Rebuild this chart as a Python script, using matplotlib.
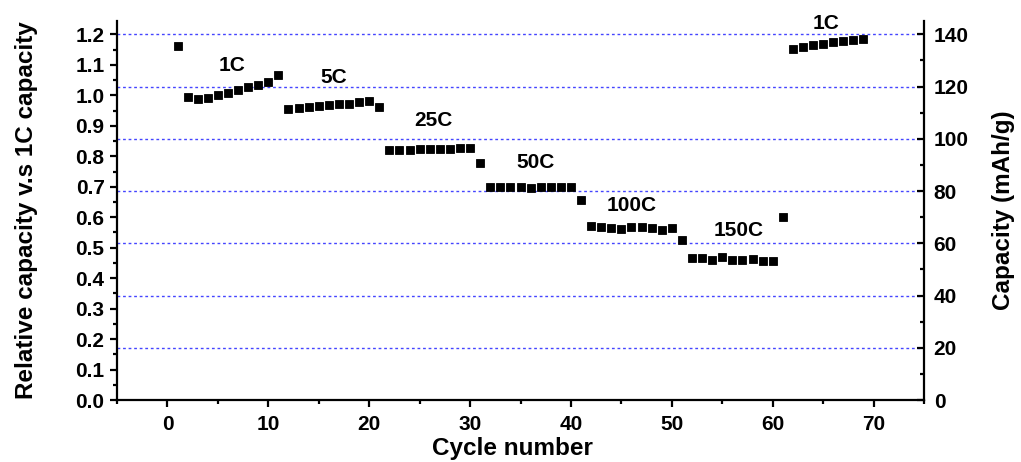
import matplotlib
matplotlib.use("Agg")
import matplotlib.pyplot as plt
from matplotlib.ticker import MultipleLocator

plt.rcParams['font.family'] = ['Liberation Sans', 'DejaVu Sans']
plt.rcParams['font.weight'] = 'bold'

# Rate-capability data: relative capacity (vs. 1C) per cycle
cycles = list(range(1, 70))
relative_capacity = [
    1.163,
    # 1C
    0.994, 0.989, 0.992, 1.000, 1.009, 1.018, 1.027, 1.035, 1.044, 1.068,
    # 5C
    0.956, 0.958, 0.961, 0.965, 0.967, 0.970, 0.972, 0.978, 0.982, 0.961,
    # 25C
    0.820, 0.820, 0.820, 0.823, 0.825, 0.825, 0.825, 0.828, 0.828, 0.777,
    # 50C
    0.700, 0.699, 0.700, 0.699, 0.697, 0.699, 0.700, 0.700, 0.700, 0.655,
    # 100C
    0.570, 0.569, 0.564, 0.562, 0.568, 0.567, 0.564, 0.557, 0.564, 0.525,
    # 150C
    0.465, 0.467, 0.458, 0.470, 0.460, 0.460, 0.463, 0.457, 0.457, 0.600,
    # back to 1C
    1.151, 1.158, 1.164, 1.169, 1.174, 1.177, 1.181, 1.184,
]

rate_labels = ["1C", "5C", "25C", "50C", "100C", "150C", "1C"]
rate_label_x = [6.4, 16.5, 26.4, 36.5, 46.0, 56.6, 65.3]
rate_label_y = [1.097, 1.058, 0.917, 0.781, 0.637, 0.556, 1.236]

left_ticks = [i / 10 for i in range(13)]
right_ticks = list(range(0, 141, 20))
x_ticks = list(range(0, 71, 10))

fig = plt.figure(figsize=(10.21, 4.62), dpi=100)
ax = fig.add_axes([117 / 1021, 1 - 400 / 462, (924 - 117) / 1021, (400 - 21) / 462])
ax2 = ax.twinx()

ax.plot(cycles, relative_capacity, linestyle='none', marker='s',
        markersize=6, markeredgewidth=0.6, color='black')

for txt, tx, ty in zip(rate_labels, rate_label_x, rate_label_y):
    ax.text(tx, ty, txt, fontsize=15, fontweight='bold', ha='center', va='center')

ax.set_xlim(-5, 75)
ax.set_ylim(0, 1.244)
ax2.set_ylim(0, 145.1)

ax.set_xticks(x_ticks)
ax.xaxis.set_minor_locator(MultipleLocator(5))
ax.set_yticks(left_ticks)
ax.set_yticklabels([f"{v:.1f}" for v in left_ticks])
ax.yaxis.set_minor_locator(MultipleLocator(0.05))
ax2.set_yticks(right_ticks)
ax2.yaxis.set_minor_locator(MultipleLocator(10))

# dotted horizontal guides at the capacity ticks
ax2.grid(axis='y', which='major', color='#4545ff', linestyle=(0, (2, 2)), linewidth=1.0)
ax.set_zorder(ax2.get_zorder() + 1)
ax.patch.set_visible(False)

for a in (ax, ax2):
    a.spines['top'].set_visible(False)
    for s in a.spines.values():
        s.set_linewidth(1.6)
ax.spines['right'].set_visible(False)
ax2.spines['left'].set_visible(False)
ax2.spines['bottom'].set_visible(False)

ax.tick_params(axis='both', which='major', direction='out', length=5, width=1.6,
               labelsize=15, pad=4)
ax.tick_params(axis='both', which='minor', direction='out', length=3, width=1.6)
ax.tick_params(axis='x', which='major', pad=6)
ax.tick_params(right=False, top=False, which='both')
ax2.tick_params(axis='y', which='major', direction='in', length=5, width=1.6,
                labelsize=15, pad=7)
ax2.tick_params(axis='y', which='minor', direction='in', length=3, width=1.6)

for lab in ax.get_xticklabels() + ax.get_yticklabels() + ax2.get_yticklabels():
    lab.set_fontweight('bold')

ax.set_xlabel("Cycle number", fontsize=17.5, fontweight='bold')
ax.set_ylabel("Relative capacity v.s 1C capacity", fontsize=17.5, fontweight='bold')
ax2.set_ylabel("Capacity (mAh/g)", fontsize=17.5, fontweight='bold')

for lbl in (ax.xaxis.label, ax.yaxis.label, ax2.yaxis.label):
    lbl.set_rotation_mode('default')
    lbl.set_verticalalignment('center')
    lbl.set_horizontalalignment('center')
ax.xaxis.set_label_coords(0.49, (400 - 448) / 379)
ax.yaxis.set_label_coords((27 - 117) / 807, 0.5)
ax2.yaxis.set_label_coords((1003 - 117) / 807, 0.5)

fig.savefig("out.png", dpi=100)
